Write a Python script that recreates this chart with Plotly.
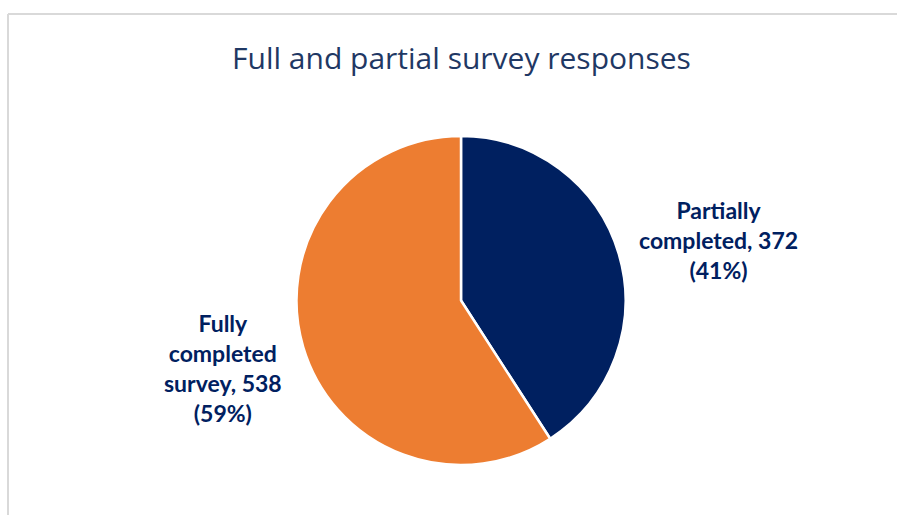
import plotly.graph_objects as go

categories = ["Partially completed", "Fully completed survey"]
values = [372, 538]
colors = ["#002060", "#ED7D31"]
title_text = "Full and partial survey responses"

W, H = 897, 515
total = sum(values)
pcts = [round(v / total * 100) for v in values]

fig = go.Figure(go.Pie(
    labels=categories,
    values=values,
    sort=False,
    direction="clockwise",
    rotation=0,
    marker=dict(colors=colors, line=dict(color="white", width=2.5)),
    textinfo="none",
    hoverinfo="label+value+percent",
    showlegend=False,
    domain=dict(x=[(461 - 200) / W, (461 + 200) / W],
                y=[(H - 465) / H, (H - 136) / H]),
))

font_label = dict(family="Lato, Open Sans, sans-serif", size=23, color="#002060")
fig.add_annotation(
    x=718 / W, y=1 - 240 / H, xref="paper", yref="paper",
    xanchor="center", yanchor="middle",
    text=f"<b>Partially<br>completed, {values[0]}<br>({pcts[0]}%)</b>",
    showarrow=False, font=font_label, align="center",
)
fig.add_annotation(
    x=223 / W, y=1 - 368 / H, xref="paper", yref="paper",
    xanchor="center", yanchor="middle",
    text=f"<b>Fully<br>completed<br>survey, {values[1]}<br>({pcts[1]}%)</b>",
    showarrow=False, font=font_label, align="center",
)

fig.add_annotation(
    x=461 / W, y=1 - 57 / H, xref="paper", yref="paper",
    xanchor="center", yanchor="middle",
    text=title_text, showarrow=False,
    font=dict(family="Open Sans, Lato, sans-serif", size=30, color="#1F3864"),
)

border = dict(color="#D9D9D9", width=2)
fig.add_shape(type="line", xref="paper", yref="paper",
              x0=8 / W, x1=1.0, y0=1 - 14 / H, y1=1 - 14 / H, line=border)
fig.add_shape(type="line", xref="paper", yref="paper",
              x0=8 / W, x1=8 / W, y0=1 - 14 / H, y1=0, line=border)

fig.update_layout(
    width=W, height=H,
    margin=dict(l=0, r=0, t=0, b=0),
    paper_bgcolor="white", plot_bgcolor="white",
)

fig.write_html("out.html", config={"displayModeBar": False},
               post_script="document.body.style.margin='0';document.body.style.overflow='hidden';")
